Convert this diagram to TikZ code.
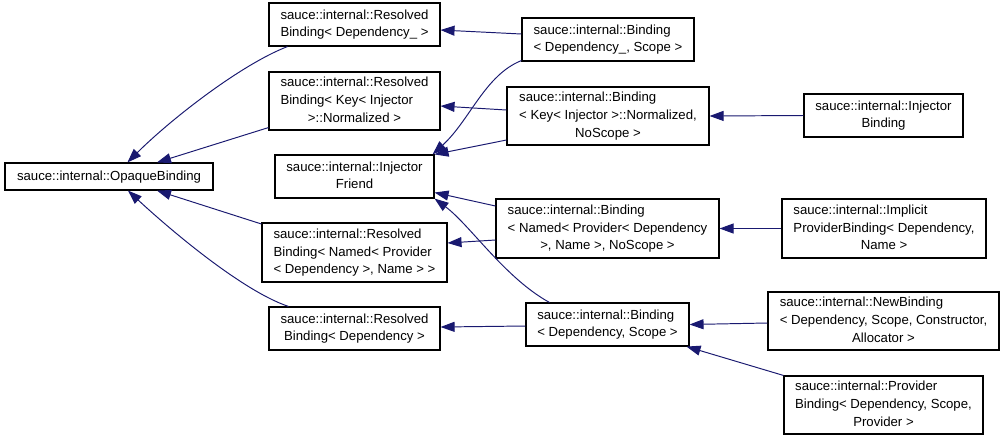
\documentclass[tikz,border=0pt]{standalone}
\usepackage{fontspec}
\setmainfont{Liberation Sans}
\usetikzlibrary{arrows.meta,calc}
\definecolor{edgeblue}{HTML}{191970}
\newcommand{\ctr}[1]{\multicolumn{1}{@{}c@{}}{#1}}
\newcommand{\cname}[1]{\begin{tabular}{@{}l@{}}#1\end{tabular}}

\begin{document}
\begin{tikzpicture}[x=0.02cm, y=-0.02cm,
        cls/.style={draw=black, line width=0.65pt, inner sep=0pt, fill=white,
            font=\fontsize{7.5}{10}\selectfont},
        edge/.style={draw=edgeblue, line width=0.55pt, -{Triangle[length=2.8mm,width=2mm]}}]
        \useasboundingbox[fill=white] (0,0) rectangle (1005,441);

        % base class
        \node[cls, minimum width=4.16cm, minimum height=0.54cm] (opaque) at (109,176.5) {\cname{sauce::internal::OpaqueBinding}};

        % second column
        \node[cls, minimum width=3.42cm, minimum height=0.86cm] (resdepu) at (354.5,24.5) {\cname{sauce::internal::Resolved\\\ctr{Binding< Dependency\_ >}}};
        \node[cls, minimum width=3.42cm, minimum height=1.16cm] (reskey) at (354.5,101) {\cname{sauce::internal::Resolved\\Binding< Key< Injector\\\ctr{>::Normalized >}}};
        \node[cls, minimum width=3.18cm, minimum height=0.86cm] (friend) at (354.5,176.5) {\cname{sauce::internal::Injector\\\ctr{Friend}}};
        \node[cls, minimum width=3.70cm, minimum height=1.18cm] (resnamed) at (354.5,252.5) {\cname{sauce::internal::Resolved\\Binding< Named< Provider\\\ctr{< Dependency >, Name > >}}};
        \node[cls, minimum width=3.42cm, minimum height=0.86cm] (resdep) at (354.5,328.5) {\cname{sauce::internal::Resolved\\\ctr{Binding< Dependency >}}};

        % third column
        \node[cls, minimum width=3.44cm, minimum height=0.86cm] (binddepu) at (608,39.5) {\cname{sauce::internal::Binding\\\ctr{< Dependency\_, Scope >}}};
        \node[cls, minimum width=4.04cm, minimum height=1.16cm] (bindkey) at (608,116) {\cname{sauce::internal::Binding\\< Key< Injector >::Normalized,\\\ctr{NoScope >}}};
        \node[cls, minimum width=4.46cm, minimum height=1.18cm] (bindnamed) at (607.5,228.5) {\cname{sauce::internal::Binding\\< Named< Provider< Dependency\\\ctr{>, Name >, NoScope >}}};
        \node[cls, minimum width=3.26cm, minimum height=0.86cm] (binddep) at (607.5,324.5) {\cname{sauce::internal::Binding\\\ctr{< Dependency, Scope >}}};

        % fourth column
        \node[cls, minimum width=3.18cm, minimum height=0.86cm] (injbind) at (883.5,115.5) {\cname{sauce::internal::Injector\\\ctr{Binding}}};
        \node[cls, minimum width=4.08cm, minimum height=1.18cm] (implicit) at (884,228.5) {\cname{sauce::internal::Implicit\\ProviderBinding< Dependency,\\\ctr{Name >}}};
        \node[cls, minimum width=4.62cm, minimum height=1.16cm] (newbind) at (883.5,321) {\cname{sauce::internal::NewBinding\\< Dependency, Scope, Constructor,\\\ctr{Allocator >}}};
        \node[cls, minimum width=3.98cm, minimum height=1.16cm] (provbind) at (883.5,405) {\cname{sauce::internal::Provider\\Binding< Dependency, Scope,\\\ctr{Provider >}}};

        % inheritance edges
        \draw[edge] ($(resdepu.south west)+(19,0)$) .. controls (240,65) and (170,120) .. ($(opaque.north west)+(123,0)$);
        \draw[edge] ($(reskey.south west)+(0,-3)$) -- ($(opaque.north)+(48,0)$);
        \draw[edge] ($(resnamed.west)+(0,-28.5)$) -- ($(opaque.south)+(48,0)$);
        \draw[edge] ($(resdep.north west)+(20,0)$) .. controls (240,290) and (165,225) .. ($(opaque.south)+(19,0)$);

        \draw[edge] ($(binddepu.west)+(0,-5.5)$) -- ($(resdepu.east)+(0,5.5)$);
        \draw[edge] ($(binddepu.south west)+(0,-1)$) .. controls (485,75) and (470,120) .. ($(friend.north east)+(-2,0)$);
        \draw[edge] ($(bindkey.west)+(0,-6)$) -- ($(reskey.east)+(0,5)$);
        \draw[edge] ($(bindkey.west)+(0,24)$) -- (friend.north east);
        \draw[edge] ($(bindnamed.west)+(0,-22.5)$) -- ($(friend.east)+(0,16)$);
        \draw[edge] ($(bindnamed.west)+(0,11.5)$) -- ($(resnamed.east)+(0,-9.5)$);
        \draw[edge] ($(binddep.north west)+(24,0)$) .. controls (505,278) and (470,225) .. (friend.south east);
        \draw[edge] ($(binddep.west)+(0,1.5)$) -- ($(resdep.east)+(0,-1.5)$);

        \draw[edge] (injbind.west) -- (bindkey.east);
        \draw[edge] (implicit.west) -- (bindnamed.east);
        \draw[edge] ($(newbind.west)+(0,2)$) -- (binddep.east);
        \draw[edge] (provbind.north west) -- ($(binddep.south east)+(-3,0)$);
    \end{tikzpicture}
\end{document}
